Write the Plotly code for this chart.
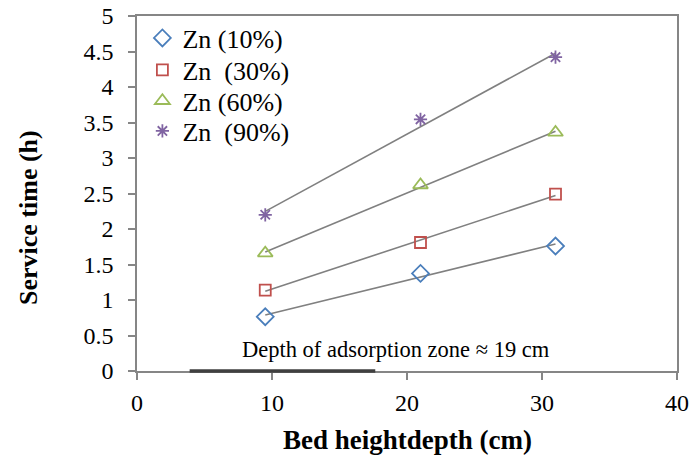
import numpy as np
import plotly.graph_objects as go

# Bed heights (cm) and breakthrough service times (h) for each Zn removal level
bed_height = [9.5, 21, 31]
zn_10 = [0.765, 1.375, 1.76]
zn_30 = [1.14, 1.81, 2.49]
zn_60 = [1.66, 2.62, 3.36]
zn_90 = [2.20, 3.545, 4.42]

series_names = ["Zn (10%)", "Zn\u00a0 (30%)", "Zn (60%)", "Zn\u00a0 (90%)"]
series_values = [zn_10, zn_30, zn_60, zn_90]
series_colors = ["#4a7ebb", "#c0504d", "#9bbb59", "#8064a2"]
series_symbols = ["diamond-open", "square-open", "triangle-up-open", "asterisk-open"]
series_sizes = [13, 11, 13, 11]

# Adsorption-zone depth marker along the x axis
zone_start, zone_end = 3.9, 17.65
zone_label = "Depth of adsorption zone \u2248 19 cm"

x_title = "<b>Bed heightdepth (cm)</b>"
y_title = "<b>Service time (h)</b>"

FONT = "Liberation Serif, Times New Roman, serif"

fig = go.Figure()

# Linear BDST trend lines
for vals in series_values:
    slope, intercept = np.polyfit(bed_height, vals, 1)
    xs = np.array([bed_height[0], bed_height[-1]])
    fig.add_trace(go.Scatter(
        x=xs, y=slope * xs + intercept, mode="lines",
        line=dict(color="#808080", width=1.6),
        showlegend=False, hoverinfo="skip",
    ))

# One legend box per series so the rows can sit at their own heights
legend_ids = ["legend", "legend2", "legend3", "legend4"]
legend_rows = [0.938, 0.848, 0.761, 0.676]

for i, (name, vals) in enumerate(zip(series_names, series_values)):
    fig.add_trace(go.Scatter(
        x=bed_height, y=vals, mode="markers", name=name,
        legend=legend_ids[i],
        marker=dict(symbol=series_symbols[i], size=series_sizes[i],
                    color=series_colors[i],
                    line=dict(color=series_colors[i], width=1.8)),
    ))

fig.add_shape(type="line", xref="x", yref="paper",
              x0=zone_start, x1=zone_end, y0=0, y1=0,
              line=dict(color="#404040", width=3.5), layer="above")

fig.add_annotation(x=19.2, y=0.3, xref="x", yref="y", text=zone_label,
                   showarrow=False, font=dict(family=FONT, size=22.5, color="#000000"))

# Axis titles
fig.add_annotation(x=0.5, y=-0.195, xref="paper", yref="paper", text=x_title,
                   showarrow=False, xanchor="center", yanchor="middle",
                   font=dict(family=FONT, size=27, color="#000000"))
fig.add_annotation(x=-0.2, y=0.431, xref="paper", yref="paper", text=y_title,
                   showarrow=False, textangle=-90, xanchor="center", yanchor="middle",
                   font=dict(family=FONT, size=26, color="#000000"))

axis_common = dict(
    showgrid=False, zeroline=False, showline=True, linecolor="#868686",
    linewidth=1.5, mirror=True, ticks="outside", ticklen=7, tickwidth=1.5,
    tickcolor="#868686", automargin=False,
    tickfont=dict(family=FONT, size=24, color="#000000"),
)

legend_style = dict(x=0.01, xanchor="left", yanchor="middle",
                    bgcolor="rgba(0,0,0,0)", itemwidth=30,
                    font=dict(family=FONT, size=26, color="#000000"))

fig.update_layout(
    width=695, height=459,
    margin=dict(l=137, r=18, t=16, b=88),
    paper_bgcolor="white", plot_bgcolor="white",
    xaxis=dict(range=[0, 40], dtick=10, ticklabelstandoff=2, **axis_common),
    yaxis=dict(range=[0, 5], dtick=0.5, ticklabelstandoff=10, **axis_common),
    showlegend=True,
)
for lid, ly in zip(legend_ids, legend_rows):
    fig.update_layout({lid: dict(y=ly, **legend_style)})

fig.write_html("out.html")
